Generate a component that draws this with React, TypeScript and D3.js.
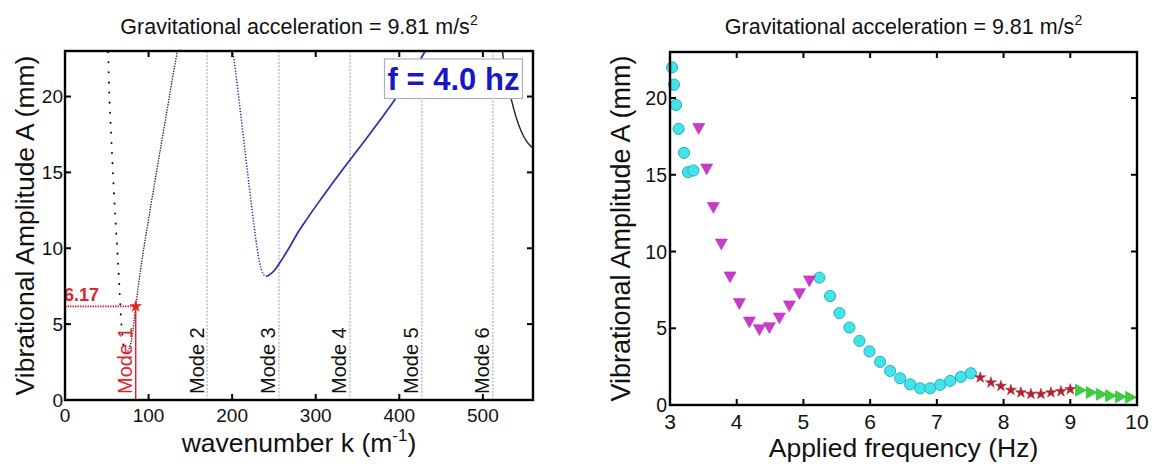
import React from 'react';
import * as d3 from 'd3';

const FONT = '"Liberation Sans", Arial, Helvetica, sans-serif';

// ---------- shared ----------
const titleText = 'Gravitational acceleration = 9.81 m/s';
const ampTicks = [0, 5, 10, 15, 20];

// ---------- left panel data ----------
const kTicks = [0, 100, 200, 300, 400, 500];
const modeK = [84.6, 170, 256, 341, 427, 512];
const modeNames = ['Mode 1', 'Mode 2', 'Mode 3', 'Mode 4', 'Mode 5', 'Mode 6'];
const pickedK = 84.6;
const pickedA = 6.17;
const freqLabel = 'f = 4.0 hz';

// mode-1 curve: steep sparse-dotted branch and rising branch
const mode1Steep: [number, number][] = [
  [51.5, 23.6], [52, 22.2], [55.5, 17.2], [59, 13.2], [62.5, 10.0], [65, 7.5],
  [67.5, 5.0], [69.5, 3.8], [72, 3.2], [75, 3.2],
];
const mode1Rising: [number, number][] = [
  [75, 3.2], [78, 3.6], [80, 4.07], [84.6, 6.17], [92, 9.18], [100, 11.9],
  [110, 15.2], [120, 18.4], [128, 21.0], [134, 22.9], [136, 23.6],
];
// mode-3 curve
const mode3Steep: [number, number][] = [
  [199, 23.6], [201, 22.9], [215, 16.6], [226, 11.6], [231, 9.6], [235, 8.6],
  [239, 8.2], [242, 8.15],
];
const mode3Rising: [number, number][] = [
  [242, 8.15], [250, 8.5], [260, 9.3], [270, 10.2], [280, 11.15], [290, 11.97],
  [300, 12.76], [310, 13.53], [320, 14.28], [330, 15.02], [340, 15.75], [350, 16.47],
  [360, 17.19], [370, 17.92], [380, 18.66], [390, 19.42], [400, 20.21], [410, 21.04],
  [420, 21.92], [428, 22.7], [432, 23.1], [437, 23.6],
];
// next curve entering at right edge
const mode5Branch: [number, number][] = [
  [522, 23.6], [526, 22.0], [530, 20.9], [535, 19.6], [540, 18.6], [546, 17.7],
  [553, 17.0], [560, 16.6],
];

// ---------- right panel data ----------
const freqTicks = [3, 4, 5, 6, 7, 8, 9, 10];
const circleF = [3.03, 3.06, 3.09, 3.13, 3.21, 3.27, 3.35,
  5.24, 5.40, 5.54, 5.69, 5.84, 5.99, 6.15, 6.30, 6.45, 6.60, 6.75, 6.90, 7.05, 7.20, 7.36, 7.51];
const circleA = [22.0, 20.87, 19.55, 17.99, 16.43, 15.17, 15.28,
  8.30, 7.10, 5.99, 5.05, 4.18, 3.49, 2.81, 2.22, 1.74, 1.35, 1.09, 1.09, 1.31, 1.57, 1.83, 2.07];
const downTriF = [3.43, 3.55, 3.65, 3.77, 3.90, 4.04, 4.19, 4.34, 4.49, 4.64, 4.79, 4.94, 5.09];
const downTriA = [17.99, 15.35, 12.84, 10.46, 8.32, 6.58, 5.38, 4.88, 5.01, 5.64, 6.43, 7.23, 8.06];
const starF = [7.65, 7.81, 7.96, 8.11, 8.26, 8.41, 8.56, 8.71, 8.86, 9.00];
const starA = [1.79, 1.46, 1.24, 0.98, 0.81, 0.72, 0.72, 0.81, 0.89, 1.02];
const rightTriF = [9.16, 9.32, 9.47, 9.61, 9.76, 9.91];
const rightTriA = [0.96, 0.81, 0.70, 0.61, 0.54, 0.50];

// ---------- layout ----------
const W = 1155;
const H = 464;
const LP = { l: 65, r: 533, t: 51, b: 400 };
const RP = { l: 670, r: 1137, t: 52, b: 405 };

const xK = d3.scaleLinear().domain([0, 560]).range([LP.l, LP.r]);
const yL = d3.scaleLinear().domain([0, 23]).range([LP.b, LP.t]);
const xF = d3.scaleLinear().domain([3, 10]).range([RP.l, RP.r]);
const yR = d3.scaleLinear().domain([0, 23]).range([RP.b, RP.t]);

const lineL = d3.line<[number, number]>().x((d) => xK(d[0])).y((d) => yL(d[1])).curve(d3.curveMonotoneX);

const BLUE = '#2a2ea6';
const RED = '#e0252d';

function Frame({ p, xs, xt, ys, yt }: any) {
  const tl = 6;
  return (
    <g>
      {xt.map((v: number) => (
        <g key={'x' + v}>
          <line x1={xs(v)} x2={xs(v)} y1={p.b} y2={p.b - tl} stroke="#000" strokeWidth={2} />
          <line x1={xs(v)} x2={xs(v)} y1={p.t} y2={p.t + tl} stroke="#000" strokeWidth={2} />
        </g>
      ))}
      {yt.map((v: number) => (
        <g key={'y' + v}>
          <line x1={p.l} x2={p.l + tl} y1={ys(v)} y2={ys(v)} stroke="#000" strokeWidth={2} />
          <line x1={p.r} x2={p.r - tl} y1={ys(v)} y2={ys(v)} stroke="#000" strokeWidth={2} />
        </g>
      ))}
      <rect x={p.l} y={p.t} width={p.r - p.l} height={p.b - p.t} fill="none" stroke="#000" strokeWidth={2.4} />
    </g>
  );
}

function Title({ cx }: { cx: number }) {
  return (
    <text x={cx} y={34} textAnchor="middle" fontSize={21.5} fill="#111">
      {titleText}
      <tspan dy={-9} fontSize={14}>2</tspan>
    </text>
  );
}

function downTri(cx: number, cy: number, s: number) {
  const h = s * 0.9;
  return `M${cx - s / 2},${cy - h / 2}L${cx + s / 2},${cy - h / 2}L${cx},${cy + h / 2}Z`;
}
function rightTri(cx: number, cy: number, s: number) {
  const w = s * 0.9;
  return `M${cx - w / 2},${cy - s / 2}L${cx + w / 2},${cy}L${cx - w / 2},${cy + s / 2}Z`;
}

export default function App() {
  const star = d3.symbol().type(d3.symbolStar).size(38)() as string;
  const redStar = d3.symbol().type(d3.symbolStar).size(40)() as string;
  const lcx = (LP.l + LP.r) / 2;
  const rcx = (RP.l + RP.r) / 2;
  const lcy = (LP.t + LP.b) / 2;
  const rcy = (RP.t + RP.b) / 2;

  return (
    <svg width={W} height={H} style={{ position: 'absolute', left: 0, top: 0, background: '#fff' }}
      fontFamily={FONT}>
      <defs>
        <clipPath id="clipL"><rect x={LP.l} y={LP.t} width={LP.r - LP.l} height={LP.b - LP.t} /></clipPath>
        <clipPath id="clipR"><rect x={RP.l - 7} y={RP.t} width={RP.r - RP.l + 14} height={RP.b - RP.t + 7} /></clipPath>
      </defs>
      <rect x={0} y={0} width={W} height={H} fill="#fff" />

      {/* ================= LEFT PANEL ================= */}
      <Title cx={lcx} />
      <g clipPath="url(#clipL)">
        {modeK.slice(1).map((k) => (
          <line key={k} x1={xK(k)} x2={xK(k)} y1={LP.b} y2={LP.t} stroke="#a8a8a8" strokeWidth={1.1}
            strokeDasharray="2 1.5" />
        ))}
        <path d={lineL(mode1Steep) || ''} fill="none" stroke="#111" strokeWidth={2}
          strokeDasharray="0.1 10" strokeLinecap="round" />
        <path d={lineL(mode1Rising) || ''} fill="none" stroke="#222" strokeWidth={1.3}
          strokeDasharray="1.4 1.2" />
        <path d={lineL(mode3Steep) || ''} fill="none" stroke={BLUE} strokeWidth={1.5}
          strokeDasharray="1.3 1.6" />
        <path d={lineL(mode3Rising) || ''} fill="none" stroke={BLUE} strokeWidth={1.7} />
        <path d={lineL(mode5Branch) || ''} fill="none" stroke="#222" strokeWidth={1.4} />

        {/* picked point */}
        <line x1={LP.l} x2={xK(pickedK)} y1={yL(pickedA)} y2={yL(pickedA)} stroke={RED} strokeWidth={1.6}
          strokeDasharray="1.5 1" />
        <line x1={xK(pickedK)} x2={xK(pickedK)} y1={yL(pickedA)} y2={LP.b} stroke={RED} strokeWidth={1.5} />
        <path d={redStar} transform={`translate(${xK(pickedK)},${yL(pickedA)})`} fill={RED} stroke={RED} strokeWidth={0.6} />
        <text x={LP.l - 1} y={yL(pickedA) - 5.5} fontSize={18} fontWeight="bold" fill={RED}>{pickedA.toFixed(2)}</text>
      </g>

      {modeK.map((k, i) => (
        <text key={'m' + i} transform={`translate(${xK(k) - 3.5},${LP.b - 6}) rotate(-90)`} fontSize={20}
          fill={i === 0 ? RED : '#111'}>{modeNames[i]}</text>
      ))}

      {/* frequency box */}
      <rect x={384.5} y={59} width={138} height={39.5} fill="#fff" stroke="#a9aec9" strokeWidth={1.2} />
      <text x={453.5} y={90} textAnchor="middle" fontSize={31} fontWeight="bold" fill="#1717c4">{freqLabel}</text>

      <Frame p={LP} xs={xK} xt={kTicks} ys={yL} yt={ampTicks} />

      {kTicks.map((v) => (
        <text key={'kt' + v} x={xK(v)} y={421.5} textAnchor="middle" fontSize={19} fill="#111">{v}</text>
      ))}
      {ampTicks.map((v) => (
        <text key={'al' + v} x={LP.l - 2} y={yL(v)} dy="0.36em" textAnchor="end" fontSize={19} fill="#111">{v}</text>
      ))}
      <text x={lcx} y={452} textAnchor="middle" fontSize={26.5} fill="#111">
        wavenumber k (m<tspan dy={-11} fontSize={17}>-1</tspan><tspan dy={11}>)</tspan>
      </text>
      <text transform={`translate(34,${lcy}) rotate(-90)`} textAnchor="middle" fontSize={26.5} fill="#111">
        Vibrational Amplitude A (mm)
      </text>

      {/* ================= RIGHT PANEL ================= */}
      <Title cx={rcx} />
      <g clipPath="url(#clipR)">
        {circleF.map((f, i) => (
          <circle key={'c' + i} cx={xF(f)} cy={yR(circleA[i])} r={5.6} fill="#42e3ea" stroke="#22a9b3" strokeWidth={0.9} />
        ))}
        {downTriF.map((f, i) => (
          <path key={'d' + i} d={downTri(xF(f), yR(downTriA[i]), 12)} fill="#c93cc9" stroke="#b52db5" strokeWidth={0.6} />
        ))}
        {starF.map((f, i) => (
          <path key={'s' + i} d={star} transform={`translate(${xF(f)},${yR(starA[i])})`} fill="#b3232f" stroke="#a11c28" strokeWidth={0.5} />
        ))}
        {rightTriF.map((f, i) => (
          <path key={'r' + i} d={rightTri(xF(f), yR(rightTriA[i]), 12)} fill="#3fce3f" stroke="#2fb52f" strokeWidth={0.6} />
        ))}
      </g>

      <Frame p={RP} xs={xF} xt={freqTicks} ys={yR} yt={ampTicks} />

      {freqTicks.map((v) => (
        <text key={'ft' + v} x={xF(v)} y={428.5} textAnchor="middle" fontSize={21} fill="#111">{v}</text>
      ))}
      {ampTicks.map((v) => (
        <text key={'ar' + v} x={RP.l - 3} y={yR(v)} dy="0.36em" textAnchor="end" fontSize={19.5} fill="#111">{v}</text>
      ))}
      <text x={rcx} y={457} textAnchor="middle" fontSize={26.5} fill="#111">Applied frequency (Hz)</text>
      <text transform={`translate(630,${rcy}) rotate(-90)`} textAnchor="middle" fontSize={27} fill="#111">
        Vibrational Amplitude A (mm)
      </text>
    </svg>
  );
}
